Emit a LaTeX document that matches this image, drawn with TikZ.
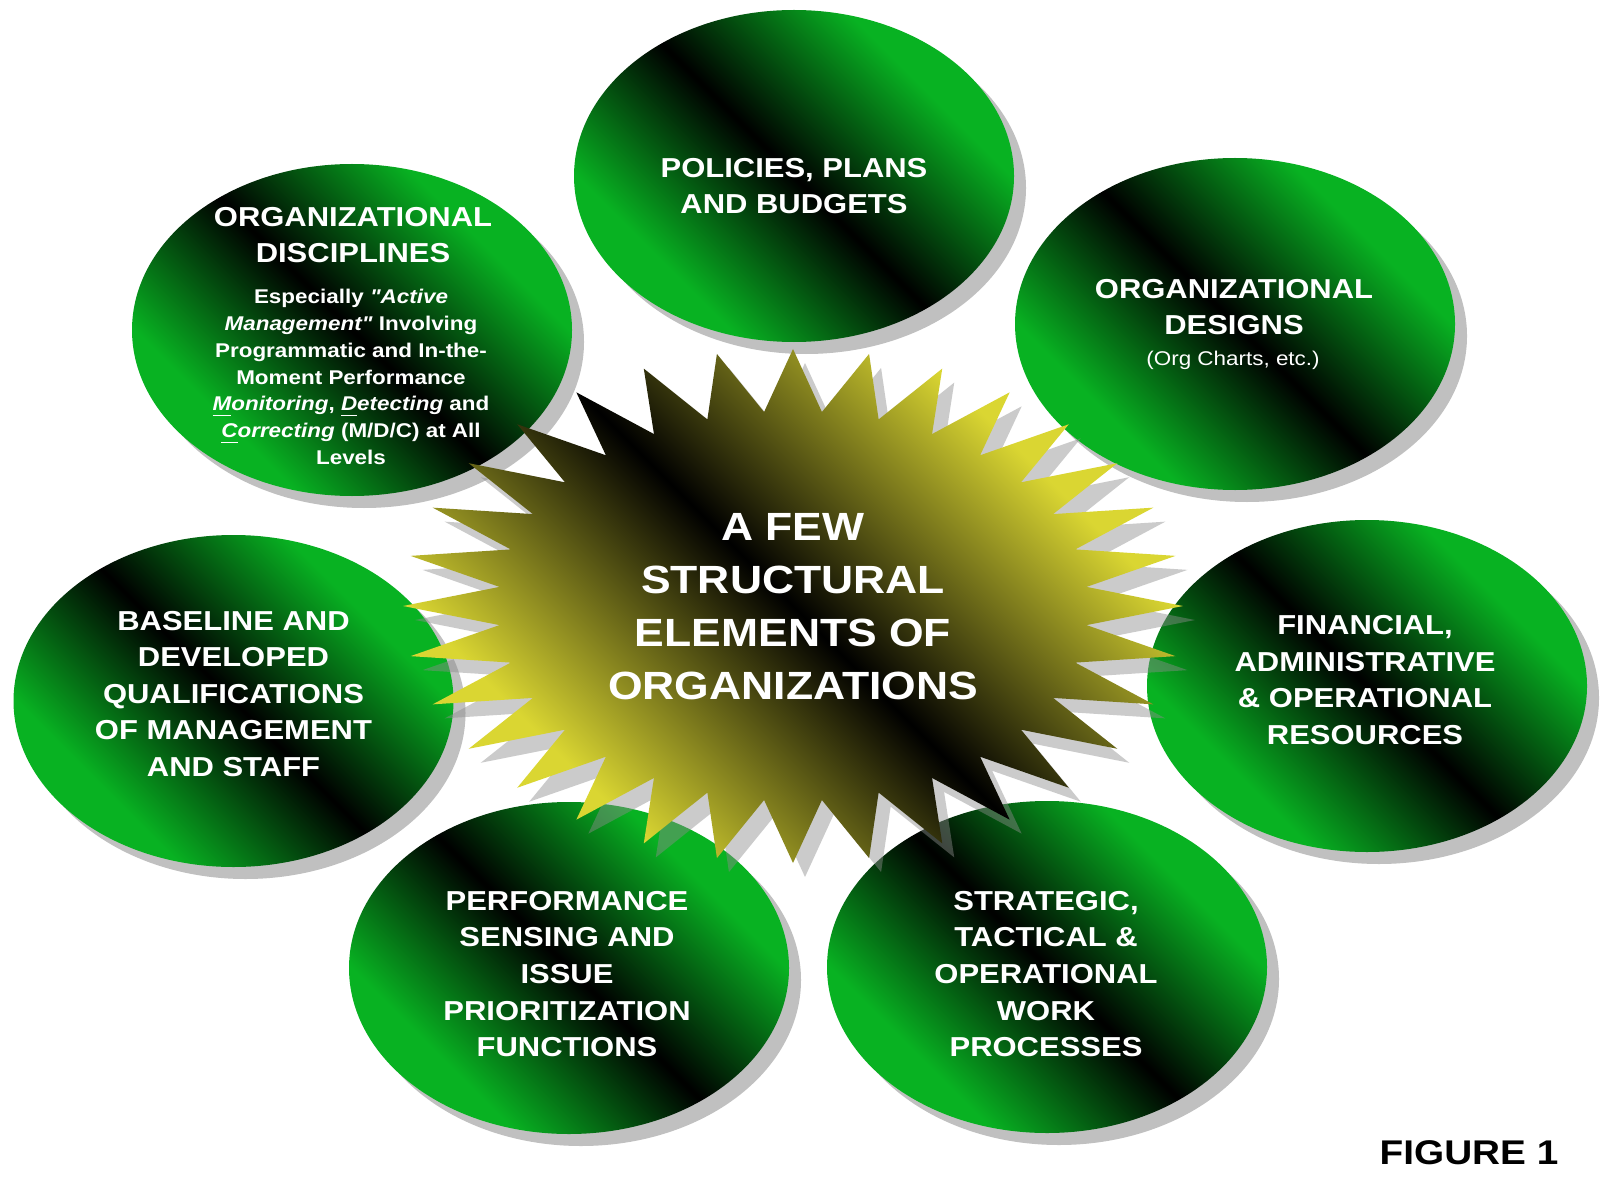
\documentclass[tikz,border=0pt]{standalone}
\usepackage{fontspec}
\setmainfont{Liberation Sans}
\newfontfamily\widesans[FakeStretch=1.13]{Liberation Sans}
\usepackage{tikz}
\usetikzlibrary{calc,shapes.geometric,shadows}
\usepackage{xcolor}

\definecolor{leafgreen}{RGB}{8,178,34}
\definecolor{staryellow}{RGB}{218,214,50}
\definecolor{shadowgray}{RGB}{192,192,192}

% green / black / green band, a little narrower than the axis shading
\pgfdeclareverticalshading{greenband}{100bp}{color(0bp)=(leafgreen); color(30bp)=(leafgreen); color(50bp)=(black); color(70bp)=(leafgreen); color(100bp)=(leafgreen)}
\pgfdeclareverticalshading{yellowband}{100bp}{color(0bp)=(staryellow); color(29bp)=(staryellow); color(50bp)=(black); color(71bp)=(staryellow); color(100bp)=(staryellow)}

% 32 spikes on an ellipse, around the origin
\newcommand{\spikes}{(90:3.9cm and 2.57cm) \foreach \k [evaluate=\k as \ang using 90+5.625*\k, evaluate=\k as \spx using {isodd(\k) ? 2.95 : 3.9}, evaluate=\k as \spy using {isodd(\k) ? 1.95 : 2.57}] in {1,...,63} { -- (\ang:\spx cm and \spy cm) } -- cycle}

\begin{document}
\begin{tikzpicture}[
  blob/.style={ellipse, minimum width=4.4cm, minimum height=3.32cm, inner sep=0pt,
    shade, shading=greenband, shading angle=-45,
    drop shadow={shadow xshift=0.12cm, shadow yshift=-0.12cm, fill=shadowgray, opacity=1}},
  head/.style={text=white, align=center, font=\widesans\bfseries\fontsize{7.8}{10.4}\selectfont},
  small/.style={text=white, align=center, font=\widesans\bfseries\fontsize{5.65}{7.6}\selectfont},
  hubtext/.style={text=white, align=center, font=\widesans\bfseries\fontsize{11.2}{15.1}\selectfont}]
\path [use as bounding box, fill=white] (0,0) rectangle (16,12);

% outer ring
\node (pol) [blob] at (7.94,10.24) {};
\node (dis) [blob] at (3.52,8.70) {};
\node (des) [blob] at (12.35,8.76) {};
\node (bas) [blob] at (2.335,4.99) {};
\node (fin) [blob] at (13.67,5.14) {};
\node (per) [blob] at (5.69,2.32) {};
\node (str) [blob] at (10.47,2.33) {};

% star and its shadow
\coordinate (hub) at (7.93,5.94);
\begin{scope}[shift={(hub)}]
\fill [black!45, opacity=0.45, shift={(0.12,-0.14)}] \spikes;
\shade [shading=yellowband, shading angle=-45] \spikes;
\end{scope}

\node (hubtxt) [hubtext] at ($(hub)+(0,-0.01)$) {A FEW\\STRUCTURAL\\ELEMENTS OF\\ORGANIZATIONS};

\node (poltxt) [head] at ($(pol)+(0,-0.10)$) {POLICIES, PLANS\\AND BUDGETS};
\node (distxt) [head] at ($(dis)+(0.01,0.95)$) {ORGANIZATIONAL\\DISCIPLINES};
\node (disnote) [small] at ($(dis)+(-0.01,-0.47)$) {Especially \textit{"Active}\\\textit{Management"} Involving\\Programmatic and In-the-\\Moment Performance\\\textit{\underline{M}onitoring}, \textit{\underline{D}etecting} and\\\textit{\underline{C}orrecting} (M/D/C) at All\\Levels};
\node (destxt) [head] at ($(des)+(-0.01,0.17)$) {ORGANIZATIONAL\\DESIGNS};
\node (desnote) [small, font=\widesans\fontsize{5.65}{7.6}\selectfont] at ($(des)+(-0.02,-0.36)$) {(Org Charts, etc.)};
\node (bastxt) [head] at ($(bas)+(0,0.07)$) {BASELINE AND\\DEVELOPED\\QUALIFICATIONS\\OF MANAGEMENT\\AND STAFF};
\node (fintxt) [head] at ($(fin)+(-0.02,0.06)$) {FINANCIAL,\\ADMINISTRATIVE\\\& OPERATIONAL\\RESOURCES};
\node (pertxt) [head] at ($(per)+(-0.02,-0.06)$) {PERFORMANCE\\SENSING AND\\ISSUE\\PRIORITIZATION\\FUNCTIONS};
\node (strtxt) [head] at ($(str)+(-0.01,-0.07)$) {STRATEGIC,\\TACTICAL \&\\OPERATIONAL\\WORK\\PROCESSES};

\node (figlabel) [font=\widesans\bfseries\fontsize{9.75}{11}\selectfont] at (14.69,0.47) {FIGURE 1};
\end{tikzpicture}
\end{document}
